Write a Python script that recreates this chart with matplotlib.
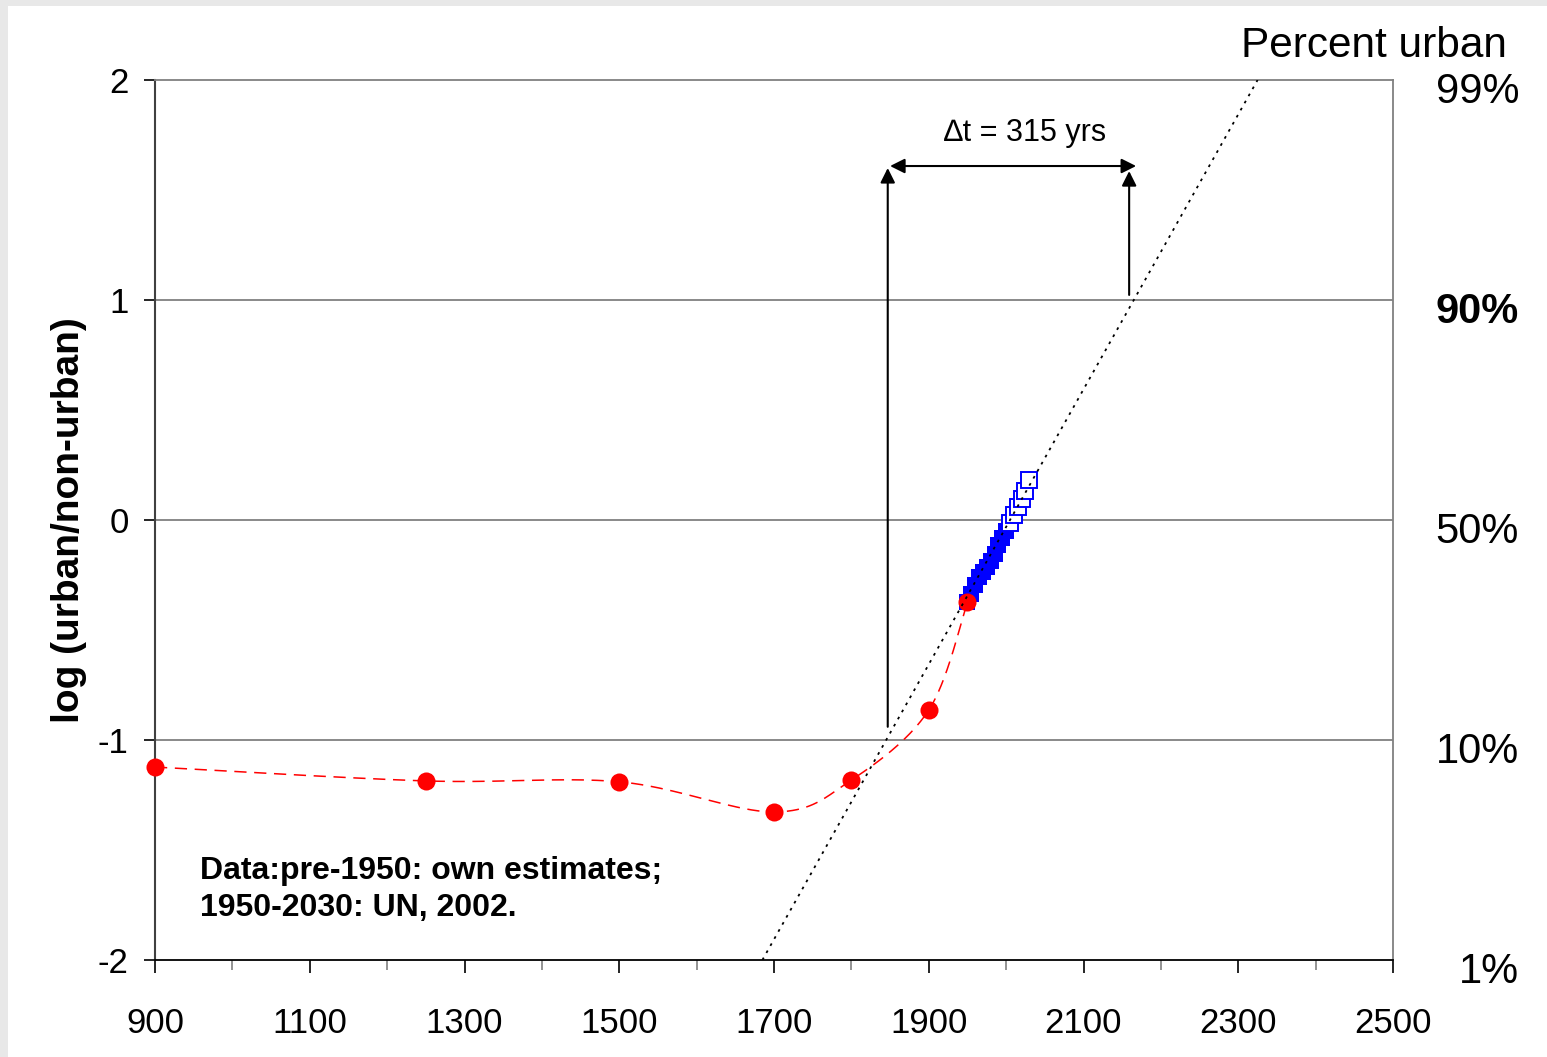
import numpy as np
import matplotlib
matplotlib.use('Agg')
import matplotlib.pyplot as plt
from matplotlib.patches import Rectangle
from matplotlib.ticker import MultipleLocator
import matplotlib.transforms as mtransforms

# ---------------- data ----------------
hist_years = [900, 1250, 1500, 1700, 1800, 1900, 1950]
hist_logit = [-1.123, -1.186, -1.190, -1.327, -1.182, -0.864, -0.373]

un_years_obs = [1950, 1955, 1960, 1965, 1970, 1975, 1980, 1985, 1990, 1995, 2000]
un_logit_obs = [-0.372, -0.335, -0.296, -0.259, -0.235, -0.214, -0.187, -0.154, -0.114, -0.082, -0.049]

un_years_proj = [2005, 2010, 2015, 2020, 2025, 2030]
un_logit_proj = [-0.014, 0.023, 0.059, 0.096, 0.133, 0.180]

trend_years = [1685, 2325]
trend_logit = [-2, 2]

arrow_left_year = 1847
arrow_right_year = 2159
delta_label = "\u2206t = 315 yrs"

pct_labels = ['1%', '10%', '50%', '90%', '99%']
pct_label_pos = [-2, -1, 0, 1, 2]

xticks = [900, 1100, 1300, 1500, 1700, 1900, 2100, 2300, 2500]
yticks = [-2, -1, 0, 1, 2]

plt.rcParams['font.family'] = ['Liberation Sans', 'DejaVu Sans']

W, H = 1547, 1057
fig = plt.figure(figsize=(W / 100, H / 100), dpi=100)
fig.patch.set_facecolor('#e8e8e8')
fig.add_artist(Rectangle((8 / W, 0), 1 - 8 / W, 1 - 6 / H, transform=fig.transFigure,
                         facecolor='white', edgecolor='none', zorder=-5))

L, R, T, B = 155, 1393, 80, 960
ax = fig.add_axes([L / W, 1 - B / H, (R - L) / W, (B - T) / H])
ax.set_xlim(900, 2500)
ax.set_ylim(-2, 2)


def smooth(xs, ys, sx, sy, n=40):
    P = np.column_stack([np.asarray(xs, float) * sx, np.asarray(ys, float) * sy])
    out = []
    for i in range(len(P) - 1):
        p0 = P[i - 1] if i > 0 else P[i]
        p1, p2 = P[i], P[i + 1]
        p3 = P[i + 2] if i + 2 < len(P) else P[i + 1]
        c1 = p1 + (p2 - p0) / 6.0
        c2 = p2 - (p3 - p1) / 6.0
        t = np.linspace(0, 1, n)[:, None]
        seg = (1 - t) ** 3 * p1 + 3 * (1 - t) ** 2 * t * c1 + 3 * (1 - t) * t ** 2 * c2 + t ** 3 * p2
        out.append(seg if i == 0 else seg[1:])
    out = np.vstack(out)
    return out[:, 0] / sx, out[:, 1] / sy


# gridlines
for yv in [-1, 0, 1]:
    ax.axhline(yv, color='#808080', lw=1.3, zorder=1)

# UN data
ax.plot(un_years_obs, un_logit_obs, 's', color='#0000ff', markersize=11.5, mew=0, zorder=3)
ax.plot(un_years_proj, un_logit_proj, 's', markerfacecolor='white', markeredgecolor='#0000ff',
        markersize=11.5, mew=1.4, zorder=3)

# historical estimates
sx_, sy_ = (R - L) / 1600.0, (B - T) / 4.0
hx, hy = smooth(hist_years, hist_logit, sx_, sy_)
ax.plot(hx, hy, color='#ff0000', lw=1.1, linestyle=(0, (8, 5)), zorder=4)
ax.plot(hist_years, hist_logit, 'o', color='#ff0000', markersize=13, mew=0, zorder=4, clip_on=False)

# trend line
ax.plot(trend_years, trend_logit, color='black', lw=1.3, linestyle=(0, (1.5, 3)), zorder=5)

# arrows
ap = dict(arrowstyle='-|>', color='black', lw=1.5, mutation_scale=22, shrinkA=0, shrinkB=0)
ax.annotate('', xy=(arrow_left_year, 1.60), xytext=(arrow_left_year, -0.94), arrowprops=ap, zorder=6)
ax.annotate('', xy=(arrow_right_year, 1.586), xytext=(arrow_right_year, 1.023), arrowprops=ap, zorder=6)
ap2 = dict(arrowstyle='<|-|>', color='black', lw=1.5, mutation_scale=22, shrinkA=0, shrinkB=0)
ax.annotate('', xy=(2168, 1.609), xytext=(1850, 1.609), arrowprops=ap2, zorder=6)
ax.text(2024, 1.759, delta_label, ha='center', va='center', fontsize=22)

# data note
ax.text(958, -1.68, "Data:pre-1950: own estimates;\n1950-2030: UN, 2002.",
        ha='left', va='center', fontsize=23, fontweight='bold', linespacing=1.33)

# axes styling
for s in ['top', 'right']:
    ax.spines[s].set_color('#808080')
    ax.spines[s].set_linewidth(1.3)
ax.spines['left'].set_color('#404040')
ax.spines['left'].set_linewidth(1.5)
ax.spines['bottom'].set_color('black')
ax.spines['bottom'].set_linewidth(1.3)

ax.set_xticks(xticks)
ax.set_xticklabels([str(v) for v in xticks])
ax.xaxis.set_minor_locator(MultipleLocator(100))
ax.tick_params(axis='x', which='major', direction='out', length=9.5, width=1.2, color='black',
               labelsize=25, pad=24)
ax.tick_params(axis='x', which='minor', direction='out', length=7, width=1.2, color='#808080')
ax.set_yticks(yticks)
ax.set_yticklabels([str(v) for v in yticks])
ax.tick_params(axis='y', which='major', direction='out', length=8, width=1.2, color='black',
               labelsize=25, pad=11)

ax.set_ylabel('log (urban/non-urban)', fontsize=28, fontweight='bold', labelpad=8)

# right-hand percent labels
trans = mtransforms.blended_transform_factory(ax.transAxes, ax.transData) + \
    mtransforms.ScaledTranslation(0, -12 / 100, fig.dpi_scale_trans)
xr = (1519 - L) / (R - L)
for yv, lab in zip(pct_label_pos, pct_labels):
    ax.text(xr, yv, lab, transform=trans, ha='right', va='center', fontsize=30,
            fontweight='bold' if lab == '90%' else 'normal', clip_on=False)

fig.text(1507 / W, 1 - 46 / H, 'Percent urban', ha='right', va='center', fontsize=30.5)

fig.savefig('out.png', dpi=100, facecolor=fig.get_facecolor())
